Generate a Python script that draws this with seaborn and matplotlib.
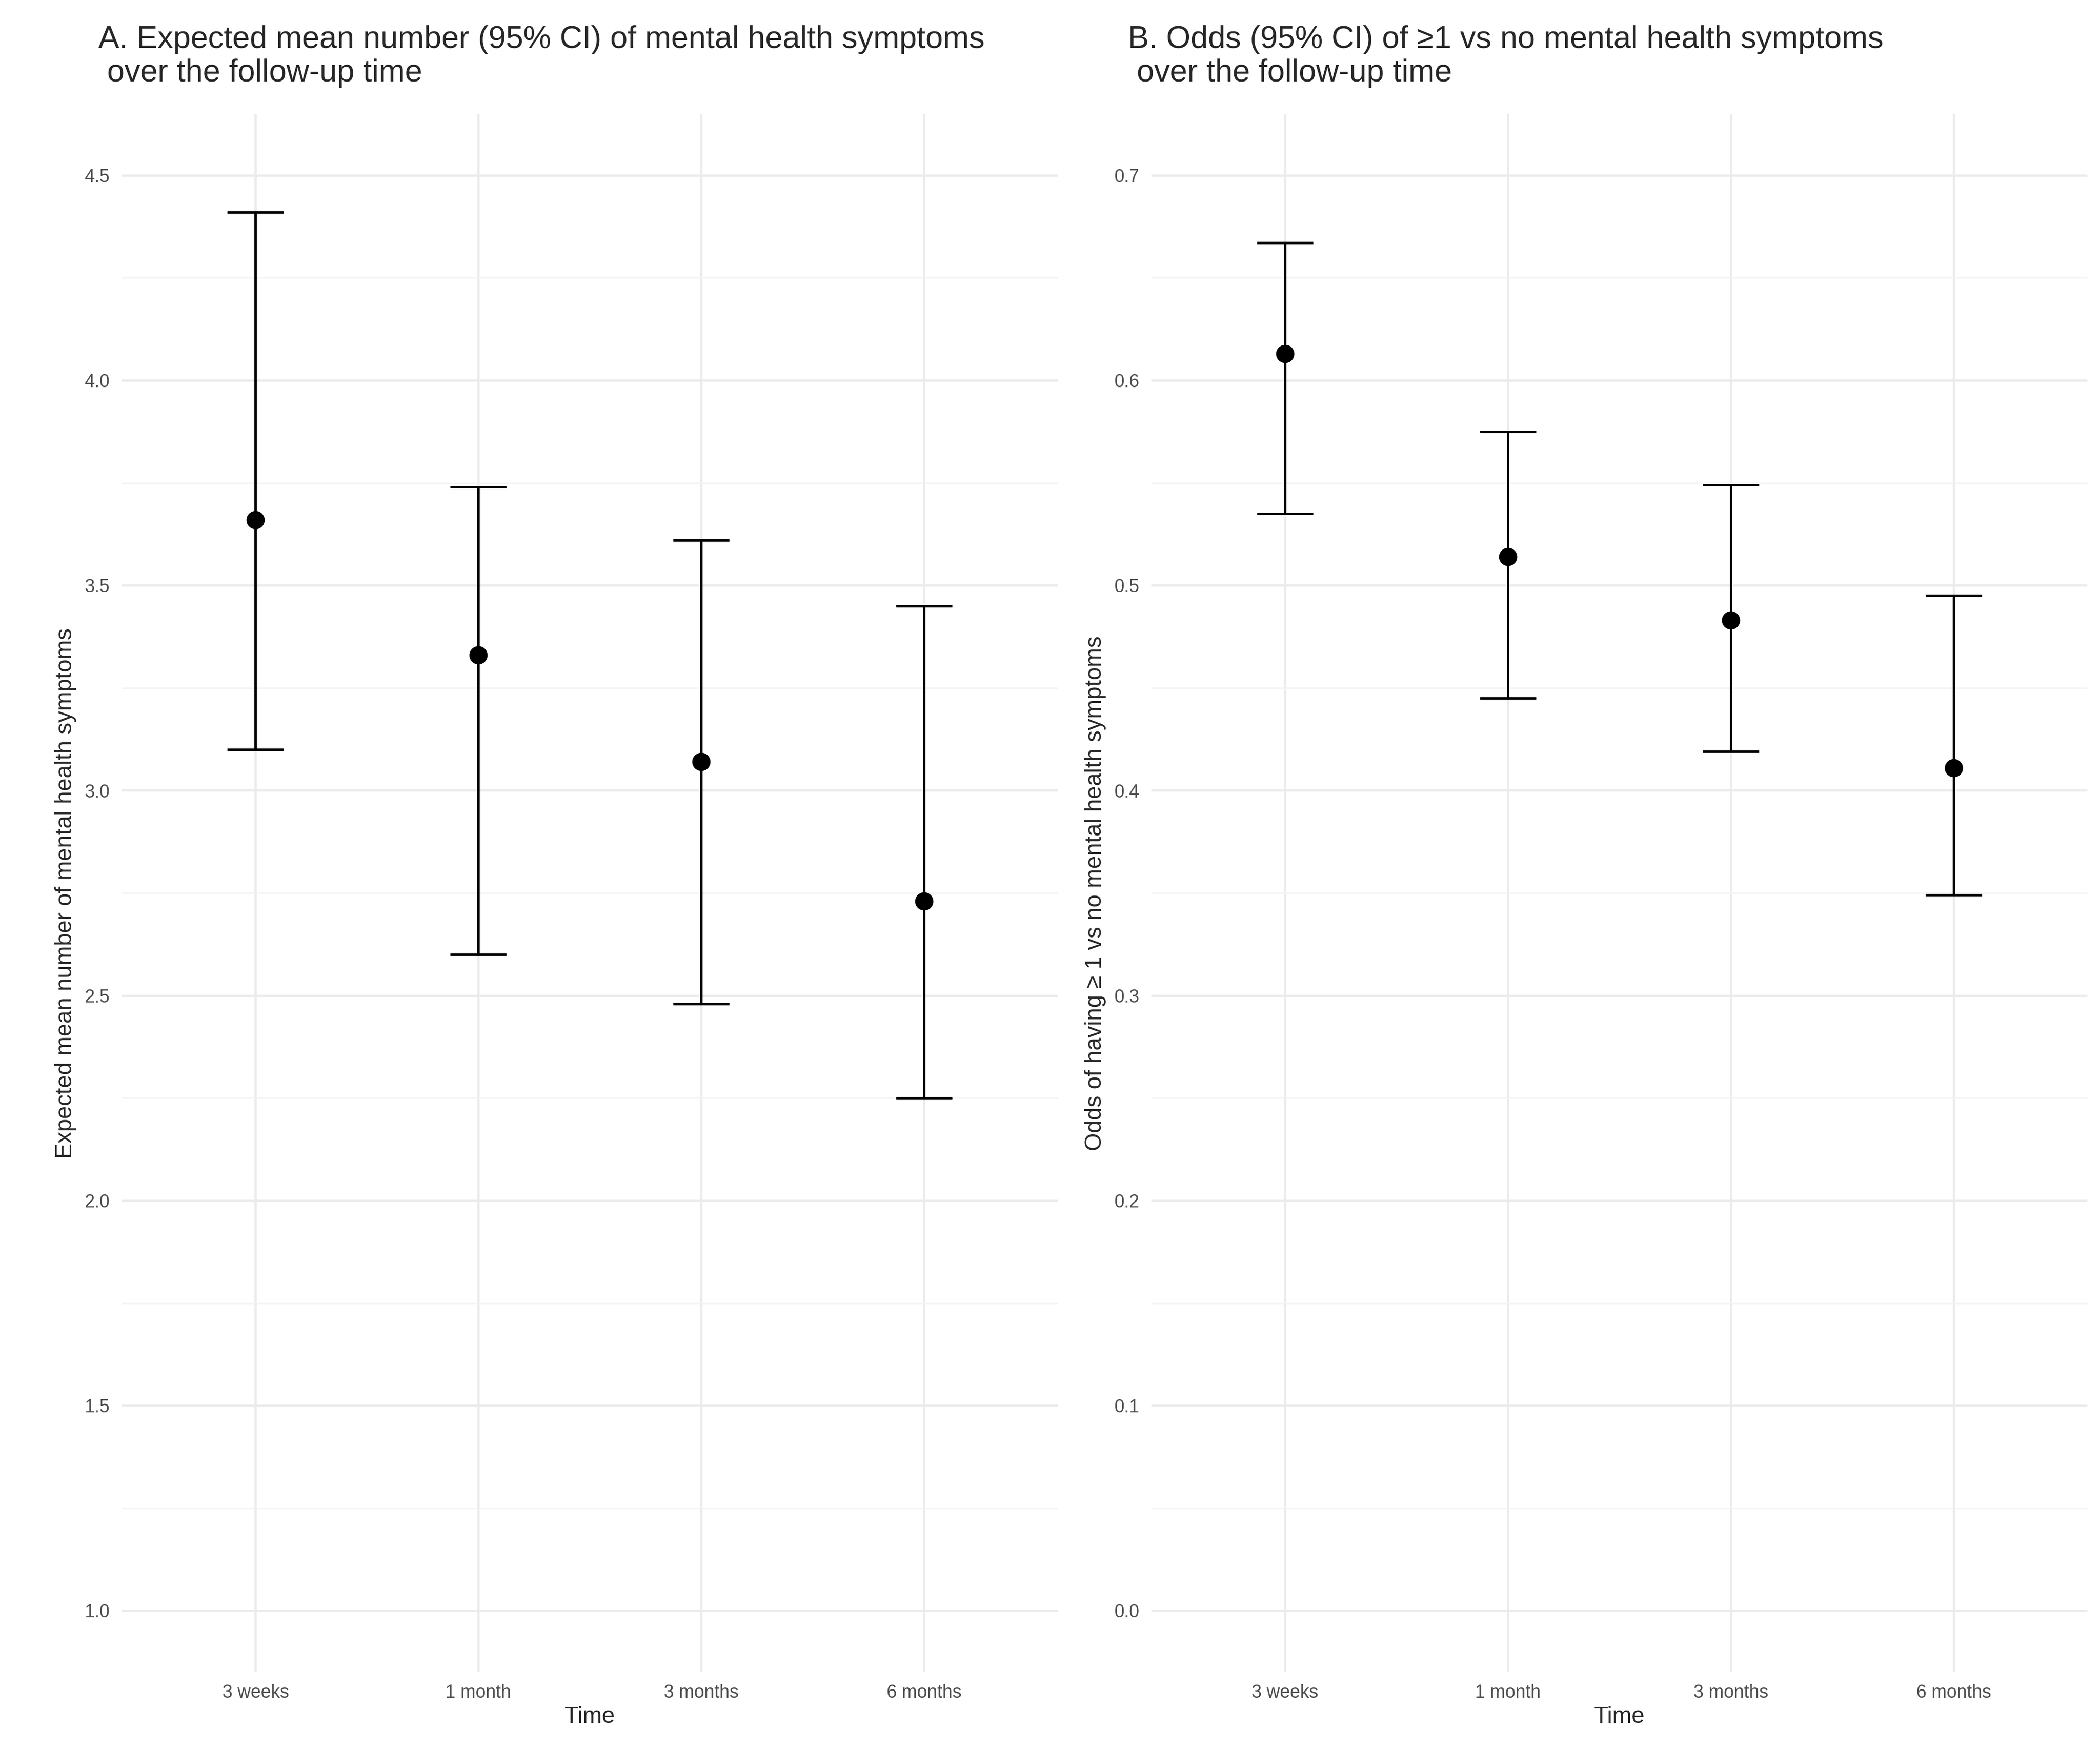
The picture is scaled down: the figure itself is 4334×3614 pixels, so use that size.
import seaborn as sns
import matplotlib.pyplot as plt
import numpy as np
import pandas as pd
from matplotlib.ticker import MultipleLocator

times = ["3 weeks", "1 month", "3 months", "6 months"]

mean_est = [3.66, 3.33, 3.07, 2.73]
mean_lo = [3.10, 2.60, 2.48, 2.25]
mean_hi = [4.41, 3.74, 3.61, 3.45]

odds_est = [0.613, 0.514, 0.483, 0.411]
odds_lo = [0.535, 0.445, 0.419, 0.349]
odds_hi = [0.667, 0.575, 0.549, 0.495]

sns.set_theme(style="white")
plt.rcParams['font.family'] = ['Liberation Sans', 'DejaVu Sans']

fig, axes = plt.subplots(1, 2, figsize=(14.447, 12.047), dpi=300)


def panel(ax, est, lo, hi, title, ylabel, ylim, major, minor):
    df = pd.DataFrame({"Time": times, "est": est, "lo": lo, "hi": hi})
    x = np.arange(len(times))
    ax.errorbar(x, df["est"], yerr=[df["est"] - df["lo"], df["hi"] - df["est"]],
                fmt="none", ecolor="black", elinewidth=1.2, capsize=14, capthick=1.2, zorder=2)
    sns.scatterplot(data=df, x="Time", y="est", ax=ax, color="black", s=70,
                    edgecolor="black", zorder=3)
    ax.set_xlim(-0.6, len(times) - 0.4)
    ax.set_ylim(*ylim)
    ax.yaxis.set_major_locator(MultipleLocator(major))
    ax.yaxis.set_minor_locator(MultipleLocator(minor))
    ax.yaxis.set_major_formatter(plt.FormatStrFormatter("%.1f"))
    ax.grid(which="major", color="#ebebeb", linewidth=1.1)
    ax.grid(which="minor", axis="y", color="#f3f3f3", linewidth=0.6)
    ax.set_axisbelow(True)
    for s in ax.spines.values():
        s.set_visible(False)
    ax.tick_params(axis="both", which="both", length=0, labelsize=9, labelcolor="#4d4d4d", pad=6)
    ax.set_xlabel("Time", fontsize=11.5, labelpad=2)
    ax.set_ylabel(ylabel, fontsize=11.5)
    ax.set_title(title, fontsize=15.5, loc="left", pad=16, x=-0.025)


panel(axes[0], mean_est, mean_lo, mean_hi,
      "A. Expected mean number (95% CI) of mental health symptoms\n over the follow-up time",
      "Expected mean number of mental health symptoms", (0.85, 4.65), 0.5, 0.25)
panel(axes[1], odds_est, odds_lo, odds_hi,
      "B. Odds (95% CI) of \u22651 vs no mental health symptoms\n over the follow-up time",
      "Odds of having \u2265 1 vs no mental health symptoms", (-0.03, 0.73), 0.1, 0.05)

plt.subplots_adjust(left=0.058, right=0.994, top=0.935, bottom=0.045, wspace=0.10)
fig.savefig("out.png", dpi=300)
